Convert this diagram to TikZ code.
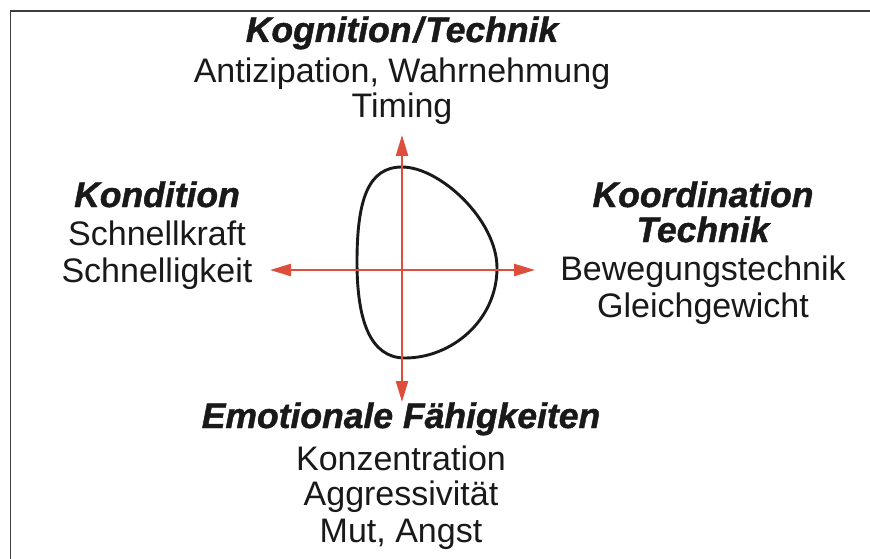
\documentclass[tikz,border=0pt]{standalone}
\usepackage{fontspec}
\setmainfont{Liberation Sans}
\newfontfamily\headfont[BoldItalicFeatures={FakeBold=1.2}]{Liberation Sans}
\usetikzlibrary{arrows.meta}
\definecolor{axisred}{RGB}{222,78,60}
\definecolor{ink}{RGB}{25,25,25}
\definecolor{framegray}{RGB}{60,60,60}
\tikzset{
  head/.style={anchor=base, inner sep=0pt, text=ink,
    font=\fontsize{35.5}{40}\selectfont\headfont\bfseries\itshape},
  txt/.style={anchor=base, inner sep=0pt, text=ink,
    font=\fontsize{34}{39}\selectfont},
  axisline/.style={draw=axisred, line width=2.4pt,
    -{Triangle[length=21pt,width=12pt]}},
  blob/.style={draw=ink, line width=2.9pt},
}
\begin{document}
\begin{tikzpicture}[x=1pt,y=-1pt]
\useasboundingbox (0,0) rectangle (870,559);
\fill[white] (0,0) rectangle (870,559);
% frame (top and left edges only)
\draw[framegray, line width=1.5pt] (10.5,559) -- (10.5,11) -- (870,11);

% closed curve
\draw[blob] (402,167) .. controls (440,167) and (497,220) .. (497,268)
  .. controls (497,320) and (452,358) .. (405,358)
  .. controls (370,358) and (357,320) .. (357,262)
  .. controls (357,200) and (368,167) .. cycle;

% axes
\coordinate (C) at (402,270);
\coordinate (N) at (402,135);
\coordinate (S) at (402,402);
\coordinate (W) at (270,270);
\coordinate (E) at (535,270);
\draw[axisline] (C) -- (N);
\draw[axisline] (C) -- (S);
\draw[axisline] (C) -- (W);
\draw[axisline] (C) -- (E);

% top block
\node[head] (k1) at (402,42) {Kognition\kern2pt/\kern2pt Technik};
\node[txt]  (k2) at (402,83) {Antizipation, Wahrnehmung};
\node[txt]  (k3) at (402,118) {Timing};

% left block
\node[head] (l1) at (157,207) {Kondition};
\node[txt]  (l2) at (157,245) {Schnellkraft};
\node[txt]  (l3) at (157,282) {Schnelligkeit};

% right block
\node[head] (r1) at (703,207) {Koordination};
\node[head] (r2) at (703,242) {Technik};
\node[txt]  (r3) at (703,280) {Bewegungstechnik};
\node[txt]  (r4) at (703,317) {Gleichgewicht};

% bottom block
\node[head] (b1) at (401,428) {Emotionale Fähigkeiten};
\node[txt]  (b2) at (401,470) {Konzentration};
\node[txt]  (b3) at (401,505) {Aggressivität};
\node[txt]  (b4) at (401,542) {Mut, Angst};
\end{tikzpicture}
\end{document}
